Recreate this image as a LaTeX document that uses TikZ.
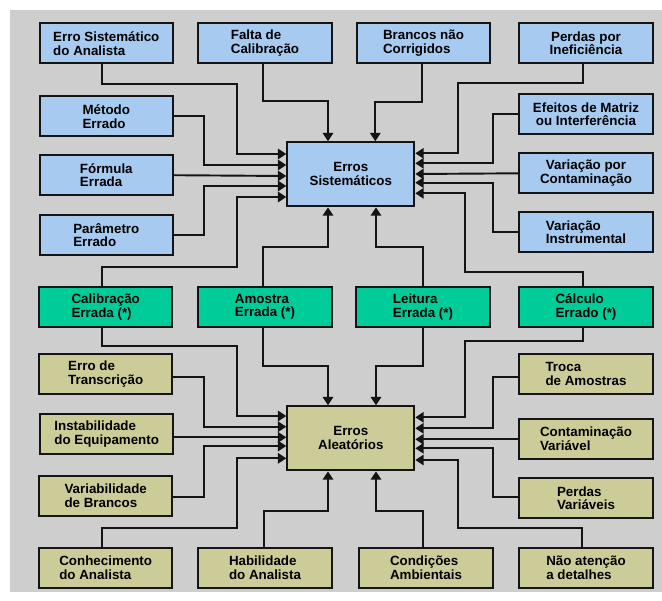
\documentclass[tikz,border=0pt]{standalone}
\usepackage{fontspec}
\setmainfont{Liberation Sans}
\usepackage{tikz}
\usetikzlibrary{arrows.meta,positioning}
\definecolor{sisblue}{RGB}{166,202,240}
\definecolor{errgreen}{RGB}{0,204,153}
\definecolor{aletan}{RGB}{204,204,153}
\definecolor{bggray}{RGB}{206,206,206}
\definecolor{ink}{RGB}{20,20,20}

\begin{document}
\begin{tikzpicture}[x=0.25mm,y=-0.25mm,
  font=\fontsize{9.5pt}{9.8pt}\selectfont\bfseries,
  box/.style={draw=ink,line width=0.5mm,minimum width=33.3mm,minimum height=10mm,
    align=left,inner sep=1pt},
  sis/.style={box,fill=sisblue},
  grn/.style={box,fill=errgreen},
  ale/.style={box,fill=aletan},
  hub/.style={draw=ink,line width=0.5mm,minimum width=31.75mm,minimum height=16mm,align=center},
  arr/.style={draw=ink,line width=0.48mm,-{Triangle[length=2.1mm,width=2.6mm]}}]
\useasboundingbox (0,0) rectangle (662,600);
\fill[bggray] (10,10) rectangle (662,592);

% erros sistematicos
\node[hub,fill=sisblue] (S) at (350.8,174.3) {Erros\\Sistemáticos};
\node[sis] (esa) at (106.3,43.3) {Erro Sistemático\\do Analista};
\node[sis] (fcal) at (265,43.3) {Falta de\\Calibração};
\node[sis] (bnc) at (423.5,43.3) {Brancos não\\Corrigidos};
\node[sis,align=center] (pin) at (586,43.3) {Perdas por\\Ineficiência};
\node[sis] (met) at (106.3,116.3) {Método\\Errado};
\node[sis,align=center] (efm) at (586,114.3) {Efeitos de Matriz\\ou Interferência};
\node[sis] (form) at (106.3,175.2) {Fórmula\\Errada};
\node[sis,align=center] (vcont) at (586,173.3) {Variação por\\Contaminação};
\node[sis] (par) at (106.3,235) {Parâmetro\\Errado};
\node[sis] (vins) at (586,232.3) {Variação\\Instrumental};

% erros comuns aos dois
\node[grn] (cal) at (105.7,306.7) {Calibração\\Errada (*)};
\node[grn] (amo) at (265,306.7) {Amostra\\Errada (*)};
\node[grn] (lei) at (423,306.7) {Leitura\\Errada (*)};
\node[grn] (calc) at (586,306.7) {Cálculo\\Errado (*)};

% erros aleatorios
\node[hub,fill=aletan] (A) at (350.8,438.3) {Erros\\Aleatórios};
\node[ale] (etr) at (105.7,374.3) {Erro de\\Transcrição};
\node[ale] (tro) at (586,374.3) {Troca\\de Amostras};
\node[ale] (ins) at (106.7,433.7) {Instabilidade\\do Equipamento};
\node[ale] (cvar) at (586,439) {Contaminação\\Variável};
\node[ale] (vbr) at (105.7,496) {Variabilidade\\de Brancos};
\node[ale] (pvar) at (586,498.3) {Perdas\\Variáveis};
\node[ale] (con) at (105.7,567.7) {Conhecimento\\do Analista};
\node[ale] (hab) at (265,567.7) {Habilidade\\do Analista};
\node[ale] (cond) at (426,567.7) {Condições\\Ambientais};
\node[ale] (nat) at (586,567.7) {Não atenção\\a detalhes};

% ligacoes para S
\draw[arr] (esa.south -| 101.7,0) |- (236.7,84.3) |- (S.west |- 0,154);
\draw[arr] (met.east) -| (204,165) -- (S.west |- 0,165);
\draw[arr] (form.east) -- (S.west |- 0,176);
\draw[arr] (par.east) -| (204,186) -- (S.west |- 0,186);
\draw[arr] (cal.north -| 101.7,0) |- (236.7,266.7) |- (S.west |- 0,197);
\draw[arr] (fcal.south -| 263.3,0) |- (328,101) -- (S.north -| 328,0);
\draw[arr] (bnc.south -| 422,0) |- (375.3,101.7) -- (S.north -| 375.3,0);
\draw[arr] (pin.south -| 583.3,0) |- (457.7,83.3) |- (S.east |- 0,153.3);
\draw[arr] (efm.west) -| (493.3,163.3) -- (S.east |- 0,163.3);
\draw[arr] (vcont.west) -- (S.east |- 0,174);
\draw[arr] (vins.west) -| (493.3,182.7) -- (S.east |- 0,182.7);
\draw[arr] (calc.north -| 583.3,0) |- (465,271.7) |- (S.east |- 0,193.3);
\draw[arr] (amo.north -| 263.3,0) |- (328,246.7) -- (S.south -| 328,0);
\draw[arr] (lei.north -| 422.7,0) |- (376,246.7) -- (S.south -| 376,0);

% ligacoes para A
\draw[arr] (cal.south -| 101.7,0) |- (236.7,345.7) |- (A.west |- 0,416);
\draw[arr] (amo.south -| 263.3,0) |- (328,365.7) -- (A.north -| 328,0);
\draw[arr] (etr.east |- 0,376.7) -| (204,426.7) -- (A.west |- 0,426.7);
\draw[arr] (ins.east |- 0,437.3) -- (A.west |- 0,437.3);
\draw[arr] (vbr.east |- 0,497.3) -| (204,446) -- (A.west |- 0,446);
\draw[arr] (con.north -| 101.7,0) |- (236.7,528.3) |- (A.west |- 0,458.3);
\draw[arr] (hab.north -| 264,0) |- (328,510.7) -- (A.south -| 328,0);
\draw[arr] (lei.south -| 422.7,0) |- (376,366) -- (A.north -| 376,0);
\draw[arr] (calc.south -| 582.7,0) |- (465.3,340.7) |- (A.east |- 0,417.3);
\draw[arr] (tro.west |- 0,376.7) -| (493.3,428.3) -- (A.east |- 0,428.3);
\draw[arr] (cvar.west |- 0,439.3) -- (A.east |- 0,439.3);
\draw[arr] (pvar.west |- 0,496.7) -| (493.3,448.3) -- (A.east |- 0,448.3);
\draw[arr] (nat.north -| 582,0) |- (457.7,528.3) |- (A.east |- 0,460);
\draw[arr] (cond.north -| 423.3,0) |- (376,510.7) -- (A.south -| 376,0);
\end{tikzpicture}
\end{document}
